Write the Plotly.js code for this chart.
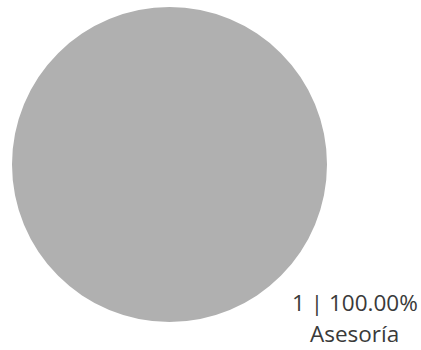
<!DOCTYPE html>
<html>
<head>
<meta charset="utf-8">
<script src="https://cdn.plot.ly/plotly-3.0.1.min.js"></script>
<style>html,body{margin:0;padding:0;background:#fff;}#chart{width:421px;height:350px;}</style>
</head>
<body>
<div id="chart"></div>
<script>
const labels = ["Asesoría"];
const values = [1];
const colors = ["#b0b0b0"];

const total = values.reduce((a, b) => a + b, 0);
const pct = values.map(v => (100 * v / total).toFixed(2) + "%");

const W = 421, H = 350;
const trace = {
  type: "pie",
  labels: labels,
  values: values,
  marker: {colors: colors, line: {width: 0}},
  textinfo: "none",
  hoverinfo: "none",
  sort: false,
  domain: {x: [12 / W, 327 / W], y: [1 - 323 / H, 1 - 6 / H]}
};

const font = {family: "Open Sans, sans-serif", size: 22.5, color: "#3a3a3a"};
const annotations = [
  {text: values[0] + " | " + pct[0], x: 354.5 / W, y: 1 - 302 / H},
  {text: labels[0], x: 354 / W, y: 1 - 333 / H}
].map(a => Object.assign({xref: "paper", yref: "paper", xanchor: "center", yanchor: "middle", showarrow: false, font: font}, a));

Plotly.newPlot("chart", [trace], {
  width: W, height: H,
  margin: {l: 0, r: 0, t: 0, b: 0},
  showlegend: false,
  paper_bgcolor: "#ffffff",
  annotations: annotations
}, {displayModeBar: false, staticPlot: true});
</script>
</body>
</html>
